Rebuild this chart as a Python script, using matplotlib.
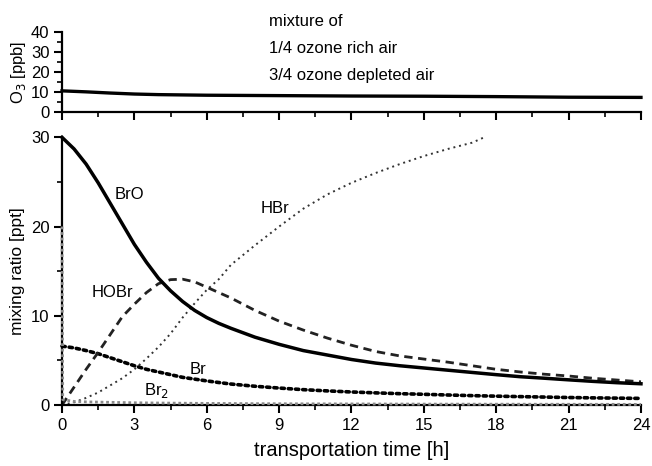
import matplotlib
matplotlib.use("Agg")
import matplotlib.pyplot as plt
from matplotlib.ticker import MultipleLocator

plt.rcParams['font.family'] = ['Liberation Sans', 'DejaVu Sans']

# ---- data ----
t_o3 = [0, 1, 2, 3, 4, 6, 9, 12, 15, 18, 21, 24]
o3 = [10.5, 10.0, 9.4, 8.9, 8.6, 8.3, 8.1, 7.9, 7.8, 7.6, 7.3, 7.2]

t = [0, 0.5, 1, 1.5, 2, 2.5, 3, 3.5, 4, 4.5, 5, 5.5, 6, 6.5, 7, 8, 9, 10, 11, 12,
     13, 14, 15, 16, 17, 18, 19, 20, 21, 22, 23, 24]
bro = [30, 28.7, 27.0, 24.9, 22.6, 20.3, 18.0, 16.0, 14.2, 12.8, 11.6, 10.6, 9.8, 9.15,
       8.6, 7.6, 6.8, 6.1, 5.6, 5.1, 4.7, 4.4, 4.15, 3.9, 3.65, 3.4, 3.17, 3.0, 2.82,
       2.65, 2.5, 2.38]
hobr = [0, 2.0, 4.0, 5.9, 7.9, 9.9, 11.3, 12.6, 13.6, 14.05, 14.1, 13.8, 13.2, 12.6,
        12.0, 10.6, 9.4, 8.4, 7.5, 6.7, 6.0, 5.5, 5.15, 4.8, 4.4, 4.0, 3.7, 3.45, 3.25,
        3.0, 2.8, 2.6]
br = [6.6, 6.4, 6.1, 5.75, 5.3, 4.85, 4.4, 4.0, 3.7, 3.4, 3.1, 2.9, 2.7, 2.52, 2.35,
      2.1, 1.9, 1.72, 1.58, 1.46, 1.36, 1.27, 1.2, 1.12, 1.05, 0.99, 0.94, 0.89, 0.84,
      0.8, 0.77, 0.74]

t_hbr = [0, 0.5, 1, 1.5, 2, 2.5, 3, 3.5, 4, 4.5, 5, 5.5, 6, 6.5, 7, 8, 9, 10, 11, 12,
         13, 14, 15, 16, 17, 17.5]
hbr = [0, 0.3, 0.8, 1.4, 2.2, 3.0, 4.0, 5.2, 6.5, 8.0, 9.8, 11.4, 12.9, 14.1, 15.7,
       17.9, 20.0, 22.0, 23.6, 24.9, 26.0, 27.0, 27.9, 28.7, 29.4, 30.0]

t_br2 = [0, 0.03, 0.5, 1, 2, 3, 4, 5, 6, 8, 10, 12, 15, 18, 21, 24]
br2 = [20, 0.6, 0.4, 0.35, 0.3, 0.25, 0.22, 0.2, 0.18, 0.15, 0.13, 0.12, 0.1, 0.09,
       0.08, 0.07]

xticks = [0, 3, 6, 9, 12, 15, 18, 21, 24]

fig = plt.figure(figsize=(6.52, 4.66), dpi=100)
ax1 = fig.add_axes([0.0951, 0.7603, 0.888, 0.1704])
ax2 = fig.add_axes([0.0951, 0.1309, 0.888, 0.5744])

for ax in (ax1, ax2):
    for s in ('top', 'right'):
        ax.spines[s].set_visible(False)
    for s in ('left', 'bottom'):
        ax.spines[s].set_linewidth(1.6)
    ax.set_xlim(0, 24)
    ax.set_xticks(xticks)
    ax.xaxis.set_minor_locator(MultipleLocator(1.5))
    ax.yaxis.set_minor_locator(MultipleLocator(5))
    ax.tick_params(which='major', direction='out', length=6, width=1.5, labelsize=12, pad=3)
    ax.tick_params(which='minor', direction='out', length=3.5, width=1.2)

# top panel
ax1.plot(t_o3, o3, color='black', lw=2.4, clip_on=False)
ax1.set_ylim(0, 40)
ax1.set_yticks([0, 10, 20, 30, 40])
ax1.set_xticklabels([])
ax1.set_ylabel('O$_3$ [ppb]', fontsize=12, labelpad=2)
ax1.text(0.357, 1.14, 'mixture of', transform=ax1.transAxes, fontsize=12, va='center')
ax1.text(0.357, 0.80, '1/4 ozone rich air', transform=ax1.transAxes, fontsize=12, va='center')
ax1.text(0.357, 0.46, '3/4 ozone depleted air', transform=ax1.transAxes, fontsize=12, va='center')

# bottom panel
ax2.plot(t_br2, br2, color='#8a8a8a', lw=2.0, ls=(0, (1, 1)), clip_on=False, zorder=3)
ax2.plot(t_hbr, hbr, color='#333333', lw=1.4, ls=(0, (1, 2)), clip_on=False)
ax2.plot(t, br, color='black', lw=2.6, ls=(0, (0.9, 1.1)), dash_capstyle='round', clip_on=False)
ax2.plot(t, hobr, color='#222222', lw=2.0, ls=(0, (3, 2)), clip_on=False)
ax2.plot(t, bro, color='black', lw=2.5, clip_on=False)
ax2.set_ylim(0, 30)
ax2.set_yticks([0, 10, 20, 30])
ax2.set_xticklabels([str(v) for v in xticks])
ax2.set_xlabel('transportation time [h]', fontsize=14.5, labelpad=6)
ax2.set_ylabel('mixing ratio [ppt]', fontsize=12.5, labelpad=4)

lbl = dict(fontsize=12, ha='center', va='center')
ax2.text(2.8, 23.6, 'BrO', **lbl)
ax2.text(8.83, 22.0, 'HBr', **lbl)
ax2.text(2.1, 12.6, 'HOBr', **lbl)
ax2.text(5.65, 4.0, 'Br', **lbl)
ax2.text(3.4, 1.6, 'Br$_2$', fontsize=12, ha='left', va='center')

fig.savefig('out.png', dpi=100)
